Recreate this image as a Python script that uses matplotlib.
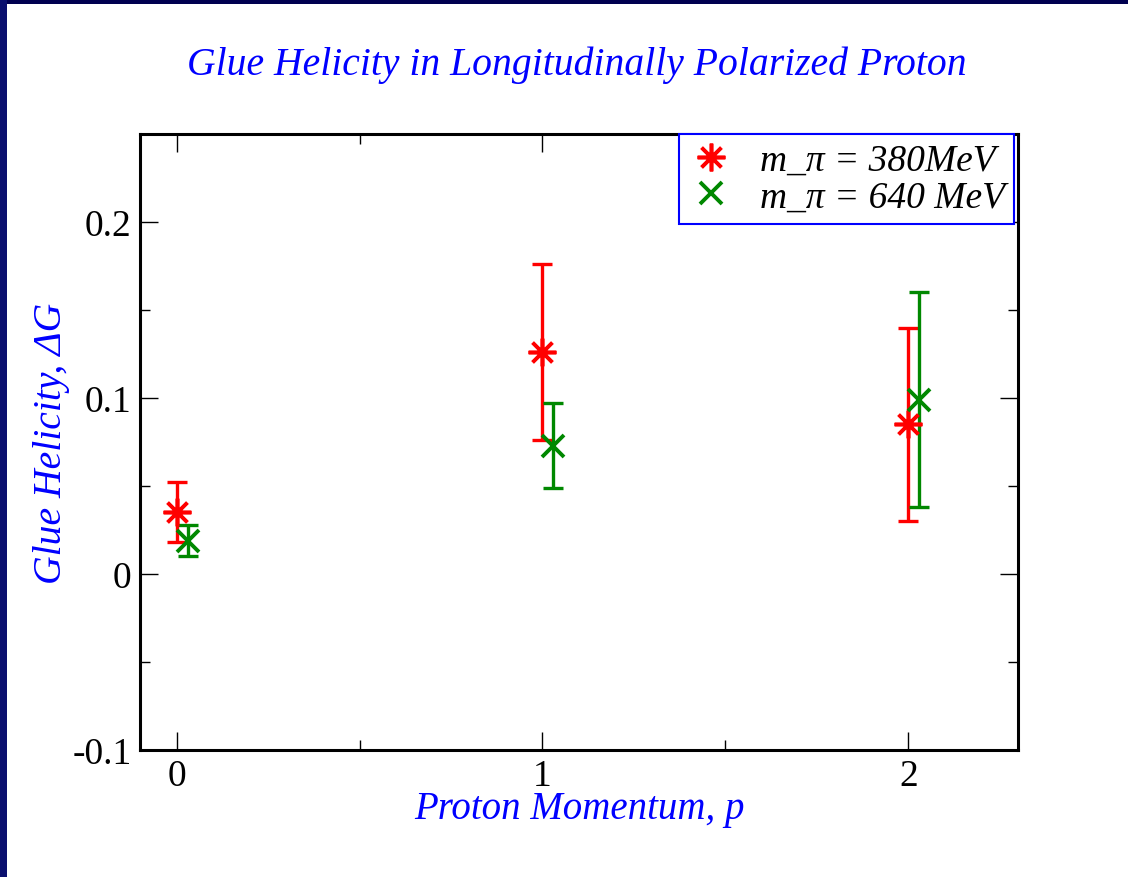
import matplotlib
matplotlib.use("Agg")
import matplotlib.pyplot as plt
from matplotlib.patches import Rectangle
from matplotlib.ticker import MultipleLocator

# Data
x_380 = [0.0, 1.0, 2.0]
y_380 = [0.035, 0.126, 0.085]
err_380 = [0.017, 0.050, 0.055]

x_640 = [0.03, 1.03, 2.03]
y_640 = [0.019, 0.073, 0.099]
err_640 = [0.009, 0.024, 0.061]

labels = ["m_\u03c0 = 380MeV", "m_\u03c0 = 640 MeV"]
title = "Glue Helicity in Longitudinally Polarized Proton"
xlabel = "Proton Momentum, p"
ylabel = "Glue Helicity, \u0394G"
xticks = [0, 1, 2]
yticks = [-0.1, 0.0, 0.1, 0.2]
yticklabels = ["-0.1", "0", "0.1", "0.2"]

plt.rcParams['font.family'] = ['Liberation Serif', 'DejaVu Serif']

fig = plt.figure(figsize=(11.28, 8.78), dpi=100)
W, H = 1128, 878
# navy borders
fig.patches.append(Rectangle((0, 1 - 5 / H), 1, 5 / H, transform=fig.transFigure,
                             facecolor='#000050', edgecolor='none', zorder=0))
fig.patches.append(Rectangle((0, 0), 7 / W, 1, transform=fig.transFigure,
                             facecolor='#0a0f6e', edgecolor='none', zorder=0))

ax = fig.add_axes([140 / W, 1 - 751 / H, (1018 - 140) / W, (751 - 135) / H])
ax.set_xlim(-0.1, 2.3)
ax.set_ylim(-0.1, 0.25)

ax.errorbar(x_380, y_380, yerr=err_380, fmt='none', ecolor='red', elinewidth=2.4,
            capsize=7, capthick=2.4, zorder=3)
ax.errorbar(x_640, y_640, yerr=err_640, fmt='none', ecolor='#008800', elinewidth=2.4,
            capsize=7, capthick=2.4, zorder=3)
ax.plot(x_380, y_380, linestyle='none', marker=(8, 2, 0), markersize=20,
        markeredgewidth=2.6, color='red', label=labels[0], zorder=4)
ax.plot(x_640, y_640, linestyle='none', marker='x', markersize=16,
        markeredgewidth=2.8, color='#008800', label=labels[1], zorder=4)

for s in ax.spines.values():
    s.set_linewidth(2.2)

ax.set_xticks(xticks)
ax.set_xticklabels([str(t) for t in xticks])
ax.set_yticks(yticks)
ax.set_yticklabels(yticklabels)
ax.xaxis.set_minor_locator(MultipleLocator(0.5))
ax.yaxis.set_minor_locator(MultipleLocator(0.05))
ax.tick_params(which='both', direction='in', top=True, right=True, width=1.0,
               labelsize=27, colors='black')
ax.tick_params(which='major', length=13, pad=6)
ax.tick_params(which='minor', length=7)

ax.set_xlabel(xlabel, fontsize=28, style='italic', color='#0000ff', labelpad=-2)
ax.set_ylabel(ylabel, fontsize=28.5, style='italic', color='#0000ff', labelpad=2)
fig.text(577 / W, 1 - 65 / H, title, fontsize=28.5, style='italic', color='#0000ff',
         ha='center', va='center')

leg = ax.legend(loc='upper right', bbox_to_anchor=(1.0 - 4 / 878, 1.0),
                prop={'style': 'italic', 'size': 27}, frameon=True, fancybox=False,
                borderaxespad=0, handletextpad=0.7, handlelength=1.2,
                borderpad=0.25, labelspacing=0.05, framealpha=1)
leg.get_frame().set_edgecolor('#0000ff')
leg.get_frame().set_linewidth(1.5)

fig.savefig('out.png', dpi=100, facecolor='white')
